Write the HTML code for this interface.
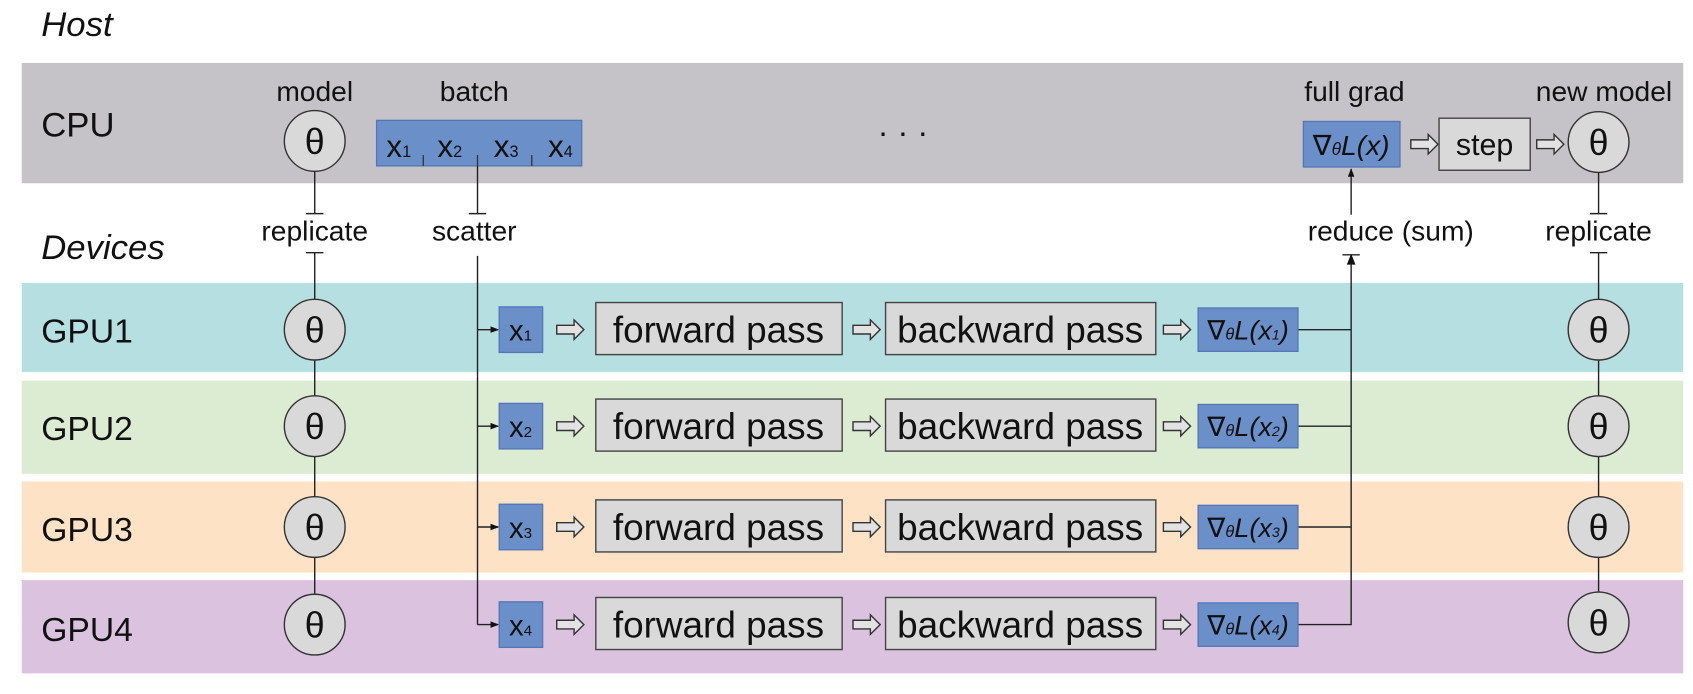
<!DOCTYPE html>
<html><head><meta charset="utf-8"><style>
html,body{margin:0;padding:0;background:#fff;}
svg{display:block;}
text{font-family:"Liberation Sans",sans-serif;fill:#111;}
</style></head><body>
<svg width="1693" height="694" viewBox="0 0 1560 640" preserveAspectRatio="none" xmlns="http://www.w3.org/2000/svg">
<defs>
<g id="ha"><path d="M0,-4 H16 V-9 L25,0 L16,9 V4 H0 Z" fill="#e2e2e2" stroke="#333" stroke-width="1.3"/></g>
<marker id="ar" markerWidth="8" markerHeight="8" refX="7" refY="4" orient="auto" markerUnits="userSpaceOnUse"><path d="M0,1 L8,4 L0,7 Z" fill="#111"/></marker>
<g id="th"><circle r="28" fill="#d9d9d9" stroke="#333" stroke-width="1.3"/><text y="12" text-anchor="middle" font-size="33">θ</text></g>
</defs>

<text x="38" y="33" font-size="32" font-style="italic">Host</text>
<rect x="20" y="58" width="1531" height="111" fill="#c5c3c7"/>
<text x="38" y="126" font-size="32">CPU</text>

<text x="290" y="93" font-size="26" text-anchor="middle">model</text>
<text x="437" y="93" font-size="26" text-anchor="middle">batch</text>
<text x="1248" y="93" font-size="26" text-anchor="middle">full grad</text>
<text x="1478" y="93" font-size="26" text-anchor="middle">new model</text>

<!-- batch -->
<rect x="347" y="111" width="189" height="42" fill="#6b8fc9" stroke="#5576b6" stroke-width="1.2"/>
<g stroke="#333" stroke-width="1.2"><line x1="390" y1="143" x2="390" y2="153"/><line x1="440" y1="143" x2="440" y2="153"/><line x1="490" y1="143" x2="490" y2="153"/></g>
<text x="356" y="145" font-size="29">x<tspan font-size="15">1</tspan></text>
<text x="403" y="145" font-size="29">x<tspan font-size="15">2</tspan></text>
<text x="455" y="145" font-size="29">x<tspan font-size="15">3</tspan></text>
<text x="505" y="145" font-size="29">x<tspan font-size="15">4</tspan></text>

<text x="832" y="132" font-size="30" text-anchor="middle">· · ·</text>

<!-- full grad / step -->
<rect x="1201" y="112" width="89" height="42" fill="#6b8fc9" stroke="#5576b6" stroke-width="1.2"/>
<text x="1245" y="143" font-size="26" text-anchor="middle" font-style="italic"><tspan font-style="normal">∇</tspan><tspan font-size="16">θ</tspan>L(x)</text>
<use href="#ha" x="1300" y="133"/>
<rect x="1326" y="109" width="84" height="48" fill="#d9d9d9" stroke="#444" stroke-width="1.3"/>
<text x="1368" y="143" font-size="28" text-anchor="middle">step</text>
<use href="#ha" x="1416" y="133"/>
<use href="#th" x="290" y="130"/>
<use href="#th" x="1473" y="131"/>

<text x="38" y="239" font-size="32" font-style="italic">Devices</text>

<!-- bands -->
<rect x="20" y="261" width="1531" height="82" fill="#b5dfe1"/>
<rect x="20" y="351" width="1531" height="86" fill="#dbecd3"/>
<rect x="20" y="444" width="1531" height="84" fill="#fde2c5"/>
<rect x="20" y="535" width="1531" height="86" fill="#dbc3e0"/>
<text x="38" y="316" font-size="31">GPU1</text>
<text x="38" y="406" font-size="31">GPU2</text>
<text x="38" y="499" font-size="31">GPU3</text>
<text x="38" y="591" font-size="31">GPU4</text>

<!-- connectors -->
<g stroke="#222" stroke-width="1.3" fill="none">
<line x1="290" y1="158" x2="290" y2="197"/><line x1="282" y1="197" x2="298" y2="197"/>
<line x1="282" y1="233" x2="298" y2="233"/><line x1="290" y1="233" x2="290" y2="576"/>
<line x1="1473" y1="159" x2="1473" y2="197"/><line x1="1465" y1="197" x2="1481" y2="197"/>
<line x1="1465" y1="233" x2="1481" y2="233"/><line x1="1473" y1="233" x2="1473" y2="574"/>
<line x1="440" y1="153" x2="440" y2="197"/><line x1="432" y1="197" x2="448" y2="197"/>
<line x1="440" y1="236" x2="440" y2="576"/>
<line x1="440" y1="304" x2="459" y2="304" marker-end="url(#ar)"/>
<line x1="440" y1="393" x2="459" y2="393" marker-end="url(#ar)"/>
<line x1="440" y1="486" x2="459" y2="486" marker-end="url(#ar)"/>
<line x1="440" y1="576" x2="459" y2="576" marker-end="url(#ar)"/>
<line x1="1196" y1="304" x2="1245" y2="304"/>
<line x1="1196" y1="393" x2="1245" y2="393"/>
<line x1="1196" y1="486" x2="1245" y2="486"/>
<path d="M1196,576 H1245 V236"/>
<line x1="1237" y1="235" x2="1253" y2="235"/>
<line x1="1245" y1="198" x2="1245" y2="156" marker-end="url(#ar)"/>
</g>
<path d="M1241,244 L1245,234 L1249,244 Z" fill="#111"/>
<text x="290" y="222" font-size="26" text-anchor="middle">replicate</text>
<text x="1473" y="222" font-size="26" text-anchor="middle">replicate</text>
<text x="437" y="222" font-size="26" text-anchor="middle">scatter</text>
<text x="1205" y="222" font-size="26">reduce (sum)</text>

<!-- rows -->
<g>
<use href="#th" x="290" y="304"/><use href="#th" x="1473" y="304"/>
<rect x="460" y="283" width="40" height="42" fill="#6b8fc9" stroke="#5576b6" stroke-width="1.2"/>
<text x="469" y="314" font-size="27">x<tspan font-size="14">1</tspan></text>
<use href="#ha" x="513" y="304"/>
<rect x="549" y="279" width="227" height="48" fill="#d9d9d9" stroke="#444" stroke-width="1.3"/>
<text x="662" y="316" font-size="34" text-anchor="middle">forward pass</text>
<use href="#ha" x="786" y="304"/>
<rect x="816" y="279" width="249" height="48" fill="#d9d9d9" stroke="#444" stroke-width="1.3"/>
<text x="940" y="316" font-size="34" text-anchor="middle">backward pass</text>
<use href="#ha" x="1072" y="304"/>
<rect x="1104" y="284" width="92" height="40" fill="#6b8fc9" stroke="#5576b6" stroke-width="1.2"/>
<text x="1150" y="313" font-size="25" text-anchor="middle" font-style="italic"><tspan font-style="normal">∇</tspan><tspan font-size="15">θ</tspan>L(x<tspan font-size="13">1</tspan>)</text>
</g>
<g>
<use href="#th" x="290" y="393"/><use href="#th" x="1473" y="393"/>
<rect x="460" y="372" width="40" height="42" fill="#6b8fc9" stroke="#5576b6" stroke-width="1.2"/>
<text x="469" y="403" font-size="27">x<tspan font-size="14">2</tspan></text>
<use href="#ha" x="513" y="393"/>
<rect x="549" y="368" width="227" height="48" fill="#d9d9d9" stroke="#444" stroke-width="1.3"/>
<text x="662" y="405" font-size="34" text-anchor="middle">forward pass</text>
<use href="#ha" x="786" y="393"/>
<rect x="816" y="368" width="249" height="48" fill="#d9d9d9" stroke="#444" stroke-width="1.3"/>
<text x="940" y="405" font-size="34" text-anchor="middle">backward pass</text>
<use href="#ha" x="1072" y="393"/>
<rect x="1104" y="373" width="92" height="40" fill="#6b8fc9" stroke="#5576b6" stroke-width="1.2"/>
<text x="1150" y="402" font-size="25" text-anchor="middle" font-style="italic"><tspan font-style="normal">∇</tspan><tspan font-size="15">θ</tspan>L(x<tspan font-size="13">2</tspan>)</text>
</g>
<g>
<use href="#th" x="290" y="486"/><use href="#th" x="1473" y="486"/>
<rect x="460" y="465" width="40" height="42" fill="#6b8fc9" stroke="#5576b6" stroke-width="1.2"/>
<text x="469" y="496" font-size="27">x<tspan font-size="14">3</tspan></text>
<use href="#ha" x="513" y="486"/>
<rect x="549" y="461" width="227" height="48" fill="#d9d9d9" stroke="#444" stroke-width="1.3"/>
<text x="662" y="498" font-size="34" text-anchor="middle">forward pass</text>
<use href="#ha" x="786" y="486"/>
<rect x="816" y="461" width="249" height="48" fill="#d9d9d9" stroke="#444" stroke-width="1.3"/>
<text x="940" y="498" font-size="34" text-anchor="middle">backward pass</text>
<use href="#ha" x="1072" y="486"/>
<rect x="1104" y="466" width="92" height="40" fill="#6b8fc9" stroke="#5576b6" stroke-width="1.2"/>
<text x="1150" y="495" font-size="25" text-anchor="middle" font-style="italic"><tspan font-style="normal">∇</tspan><tspan font-size="15">θ</tspan>L(x<tspan font-size="13">3</tspan>)</text>
</g>
<g>
<use href="#th" x="290" y="576"/><use href="#th" x="1473" y="574"/>
<rect x="460" y="555" width="40" height="42" fill="#6b8fc9" stroke="#5576b6" stroke-width="1.2"/>
<text x="469" y="586" font-size="27">x<tspan font-size="14">4</tspan></text>
<use href="#ha" x="513" y="576"/>
<rect x="549" y="551" width="227" height="48" fill="#d9d9d9" stroke="#444" stroke-width="1.3"/>
<text x="662" y="588" font-size="34" text-anchor="middle">forward pass</text>
<use href="#ha" x="786" y="576"/>
<rect x="816" y="551" width="249" height="48" fill="#d9d9d9" stroke="#444" stroke-width="1.3"/>
<text x="940" y="588" font-size="34" text-anchor="middle">backward pass</text>
<use href="#ha" x="1072" y="576"/>
<rect x="1104" y="556" width="92" height="40" fill="#6b8fc9" stroke="#5576b6" stroke-width="1.2"/>
<text x="1150" y="585" font-size="25" text-anchor="middle" font-style="italic"><tspan font-style="normal">∇</tspan><tspan font-size="15">θ</tspan>L(x<tspan font-size="13">4</tspan>)</text>
</g>
</svg>
</body></html>
